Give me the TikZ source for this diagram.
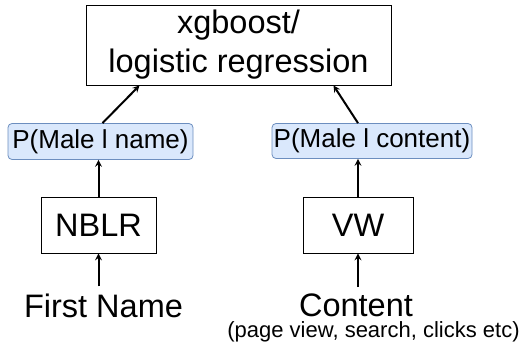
\documentclass[tikz,border=0pt]{standalone}
\usepackage{fontspec}
\setmainfont{Liberation Sans}
\usepackage{tikz}
\usetikzlibrary{arrows, calc, positioning}
\definecolor{probfill}{HTML}{DAE8FC}
\definecolor{probdraw}{HTML}{6C8EBF}
\tikzstyle{block} = [rectangle, draw=black, line width=0.9pt, text centered, inner sep=0pt]
\tikzstyle{prob} = [rectangle, rounded corners=4pt, draw=probdraw, fill=probfill, line width=0.8pt, text centered, inner sep=0pt]
\tikzstyle{label} = [inner sep=0pt]
\tikzstyle{arrow} = [line width=2pt,->,>=stealth]
\begin{document}
\begin{tikzpicture}[x=1pt, y=1pt, font=\fontsize{32.5}{39}\selectfont]
	\useasboundingbox (0,0) rectangle (527,343);
	\node (Model) [block, minimum width=305pt, minimum height=80pt, align=center] at (238.5,298) {xgboost/\\logistic regression};
	\node (ProbName) [prob, minimum width=185pt, minimum height=36pt, font=\fontsize{26}{30}\selectfont] at (100.5,201.5) {P(Male l name)};
	\node (ProbContent) [prob, minimum width=200pt, minimum height=35pt, font=\fontsize{26}{30}\selectfont] at (372,202) {P(Male l content)};
	\node (NBLR) [block, minimum width=115pt, minimum height=56pt] at (98.5,118) {NBLR};
	\node (VW) [block, minimum width=110pt, minimum height=56pt] at (358,118) {VW};
	\node (FirstName) [label, anchor=base] at (103.5,26) {First Name};
	\node (Content) [label, anchor=base] at (356,26.5) {Content};
	\node (ContentNote) [label, anchor=base, font=\fontsize{22}{26}\selectfont] at (373.5,5.3) {(page view, search, clicks etc)};
	\draw [arrow] ([yshift=7pt]FirstName.north -| NBLR) -- (NBLR);
	\draw [arrow] ([yshift=6.5pt]Content.north -| VW) -- (VW);
	\draw [arrow] (NBLR) -- (NBLR |- ProbName.south);
	\draw [arrow] (VW) -- (VW |- ProbContent.south);
	\draw [arrow] ([xshift=2pt]ProbName.north) -- ([xshift=-99pt]Model.south);
	\draw [arrow] ([xshift=-14pt]ProbContent.north) -- ([xshift=95pt]Model.south);
\end{tikzpicture}
\end{document}
